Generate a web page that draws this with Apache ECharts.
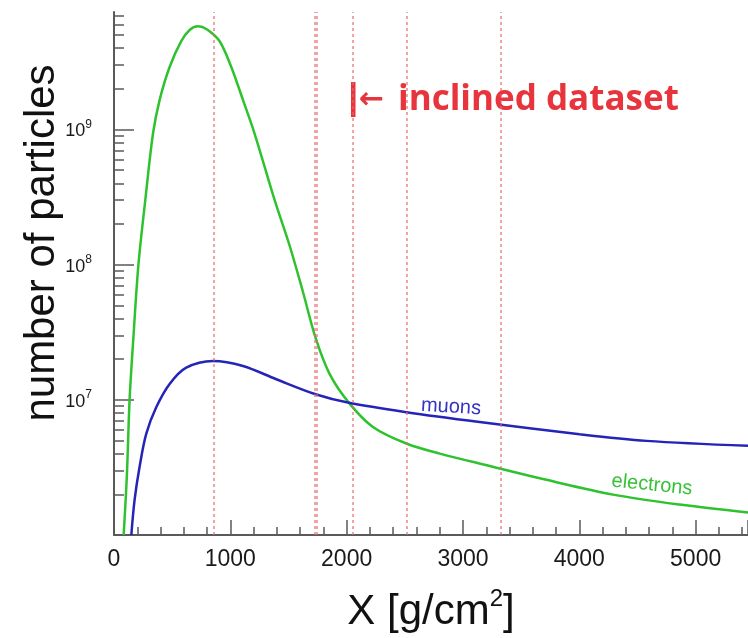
<!DOCTYPE html>
<html>
<head>
<meta charset="utf-8">
<script src="https://cdn.jsdelivr.net/npm/echarts@6/dist/echarts.min.js"></script>
<style>
  html, body { margin: 0; padding: 0; background: #ffffff; }
  #chart { width: 748px; height: 638px; }
</style>
</head>
<body>
<div id="chart"></div>
<script>
// Atmospheric depth X [g/cm^2] and particle numbers along the shower
const electronDepth = [83, 111, 134, 168, 210, 269, 335, 392, 478, 578, 650, 722, 800, 908, 1008, 1109, 1209, 1381, 1510, 1624, 1733, 1854, 2020, 2226, 2513, 2800, 3230, 3717, 4290, 4863, 5450];
const electronCount = [1.0e6, 2.8e6, 1.0e7, 3.0e7, 1.0e8, 3.0e8, 9.3e8, 1.65e9, 2.9e9, 4.5e9, 5.45e9, 5.8e9, 5.5e9, 4.5e9, 2.9e9, 1.65e9, 9.3e8, 3.0e8, 1.38e8, 6.3e7, 2.87e7, 1.55e7, 9.5e6, 6.3e6, 4.75e6, 4.0e6, 3.24e6, 2.56e6, 1.99e6, 1.68e6, 1.47e6];

const muonDepth = [149, 177, 220, 277, 363, 478, 621, 851, 1109, 1395, 1733, 2020, 2513, 3143, 4003, 4577, 5450];
const muonCount = [1.0e6, 1.82e6, 3.2e6, 5.6e6, 8.8e6, 1.31e7, 1.73e7, 1.94e7, 1.78e7, 1.42e7, 1.10e7, 9.5e6, 8.1e6, 6.85e6, 5.56e6, 4.97e6, 4.57e6];

// Depths of the inclined-shower dataset
const datasetDepths = [858, 1725, 1742, 2049, 2519, 3321];

// Log axis decorations
const yMajorTicks = [1e6, 1e7, 1e8, 1e9];
const yLabelValues = [1e7, 1e8, 1e9];
const yMinorTicks = [
  2e6, 3e6, 4e6, 5e6, 6e6, 7e6, 8e6, 9e6,
  2e7, 3e7, 4e7, 5e7, 6e7, 7e7, 8e7, 9e7,
  2e8, 3e8, 4e8, 5e8, 6e8, 7e8, 8e8, 9e8,
  2e9, 3e9, 4e9, 5e9, 6e9, 7e9
];

const X_MAX = 5450;
const Y_MIN = 1e6;
const Y_MAX = 7.4e9;

const pairs = (xs, ys) => xs.map((x, i) => [x, ys[i]]);

const FONT = 'Liberation Sans, Arial, Helvetica, sans-serif';
const AXIS_COLOR = '#5a5a5a';
const RED = '#e8343c';

const chart = echarts.init(document.getElementById('chart'), null, { renderer: 'canvas' });

chart.setOption({
  animation: false,
  backgroundColor: '#ffffff',
  grid: { left: 114, right: 0, top: 12, bottom: 99, containLabel: false },
  xAxis: {
    type: 'value',
    min: 0,
    max: X_MAX,
    interval: 1000,
    name: '{a|X [g/cm}{s|2}{a|]}',
    nameLocation: 'middle',
    nameGap: 52,
    nameTextStyle: {
      rich: {
        a: { fontFamily: FONT, fontSize: 42, color: '#111', verticalAlign: 'bottom', lineHeight: 46 },
        s: { fontFamily: FONT, fontSize: 24, color: '#111', verticalAlign: 'top', lineHeight: 46 }
      }
    },
    axisLine: { show: true, onZero: false, lineStyle: { color: AXIS_COLOR, width: 2 } },
    axisTick: { show: true, inside: true, length: 15, lineStyle: { color: AXIS_COLOR, width: 1.5 } },
    minorTick: { show: true, splitNumber: 5, length: 8, lineStyle: { color: AXIS_COLOR, width: 1.5 } },
    axisLabel: {
      fontFamily: FONT, fontSize: 23, color: '#1a1a1a', margin: 13, showMaxLabel: false,
      formatter: v => String(v)
    },
    splitLine: { show: false },
    minorSplitLine: { show: false }
  },
  yAxis: [
    {
      type: 'log',
      logBase: 10,
      min: Y_MIN,
      max: Y_MAX,
      axisLine: { show: true, onZero: false, lineStyle: { color: AXIS_COLOR, width: 2 } },
      axisTick: { show: true, inside: true, length: 20, customValues: yMajorTicks, lineStyle: { color: AXIS_COLOR, width: 1.5 } },
      axisLabel: {
        customValues: yLabelValues,
        margin: 22,
        formatter: v => '{b|10}{s|' + Math.round(Math.log10(v)) + '}',
        rich: {
          b: { fontFamily: FONT, fontSize: 18, color: '#1a1a1a', verticalAlign: 'bottom', lineHeight: 22 },
          s: { fontFamily: FONT, fontSize: 12, color: '#1a1a1a', verticalAlign: 'top', lineHeight: 22 }
        }
      },
      splitLine: { show: false }
    },
    {
      type: 'log',
      logBase: 10,
      min: Y_MIN,
      max: Y_MAX,
      position: 'left',
      axisLine: { show: false },
      axisTick: { show: true, inside: true, length: 10, customValues: yMinorTicks, lineStyle: { color: AXIS_COLOR, width: 1.5 } },
      axisLabel: { show: false },
      splitLine: { show: false }
    }
  ],
  series: [
    {
      name: 'electrons',
      type: 'line',
      data: pairs(electronDepth, electronCount),
      smooth: 0.33,
      showSymbol: false,
      clip: true,
      lineStyle: { color: '#2fc22f', width: 2.5 },
      z: 2
    },
    {
      name: 'muons',
      type: 'line',
      data: pairs(muonDepth, muonCount),
      smooth: 0.33,
      showSymbol: false,
      clip: true,
      lineStyle: { color: '#2424b8', width: 2.5 },
      z: 2,
      markLine: {
        silent: true,
        symbol: ['none', 'none'],
        label: { show: false },
        lineStyle: { color: '#e46a6a', width: 1.6, type: [3, 3], opacity: 0.75 },
        data: datasetDepths.map(d => ({ xAxis: d }))
      }
    }
  ],
  graphic: [
    {
      type: 'text',
      x: 42,
      y: 243,
      rotation: Math.PI / 2,
      style: {
        text: 'number of particles',
        font: '42px ' + FONT,
        fill: '#111',
        align: 'center',
        verticalAlign: 'middle'
      }
    },
    // annotation: bar, arrow and caption
    {
      type: 'rect',
      shape: { x: 351, y: 82, width: 4.5, height: 35 },
      style: { fill: RED }
    },
    {
      type: 'text',
      x: 359,
      y: 100,
      style: {
        text: '\u2190',
        font: 'bold 30px "DejaVu Sans", sans-serif',
        fill: RED,
        align: 'left',
        verticalAlign: 'middle'
      }
    },
    {
      type: 'text',
      x: 398,
      y: 100,
      style: {
        text: 'inclined dataset',
        font: 'bold 35px "Open Sans", sans-serif',
        fill: RED,
        align: 'left',
        verticalAlign: 'middle'
      }
    },
    {
      type: 'text',
      x: 451,
      y: 407,
      rotation: -0.06,
      style: {
        text: 'muons',
        font: '20px ' + FONT,
        fill: '#3434c4',
        align: 'center',
        verticalAlign: 'middle'
      }
    },
    {
      type: 'text',
      x: 652,
      y: 485,
      rotation: -0.1,
      style: {
        text: 'electrons',
        font: '20px ' + FONT,
        fill: '#38c238',
        align: 'center',
        verticalAlign: 'middle'
      }
    }
  ]
});
</script>
</body>
</html>
